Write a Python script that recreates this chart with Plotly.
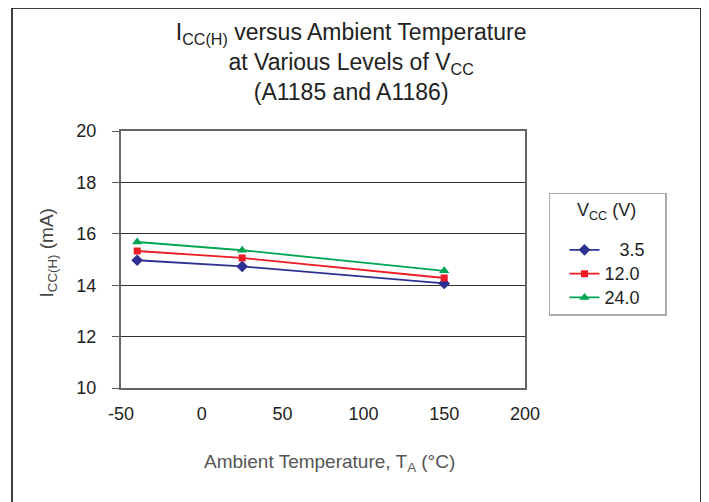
import plotly.graph_objects as go

temps = [-40, 25, 150]
vcc_labels = ["\u00a0\u00a0\u00a03.5", "12.0", "24.0"]
icc_35 = [14.97, 14.73, 14.07]
icc_12 = [15.33, 15.06, 14.28]
icc_24 = [15.68, 15.36, 14.56]

x_ticks = [-50, 0, 50, 100, 150, 200]
y_ticks = [10, 12, 14, 16, 18, 20]

series = [
    (vcc_labels[0], icc_35, "#2E3192", "diamond", 9),
    (vcc_labels[1], icc_12, "#ED1C24", "square", 7),
    (vcc_labels[2], icc_24, "#00A651", "triangle-up", 9),
]

fig = go.Figure()
for name, ys, color, sym, size in series:
    fig.add_trace(go.Scatter(
        x=temps, y=ys, mode="lines+markers",
        name="<span style='font-size:18px'>" + name + "\u00a0\u00a0\u00a0</span>",
        line=dict(color=color, width=1.8),
        marker=dict(symbol=sym, size=size, color=color),
    ))

FONT = "Liberation Sans, Arial, sans-serif"
TXT = "#222"
fig.update_layout(
    width=709, height=502,
    margin=dict(l=113, r=192, t=123, b=122),
    paper_bgcolor="white", plot_bgcolor="white",
    font=dict(family=FONT, size=18, color=TXT),
    showlegend=True,
    title=dict(
        text="I<sub>CC(H)</sub> versus Ambient Temperature<br>at Various Levels of V<sub>CC</sub><br>(A1185 and A1186)",
        x=0.484, xref="container", xanchor="center",
        y=0.936, yref="container", yanchor="top",
        font=dict(family=FONT, size=23, color=TXT),
    ),
    xaxis=dict(
        range=[-50, 200], tickvals=x_ticks, ticktext=[str(v) for v in x_ticks],
        showgrid=False, zeroline=False, showline=True, mirror=True,
        linecolor="#666", linewidth=2, ticks="", ticklabelstandoff=8,
        tickfont=dict(size=18, color=TXT),
    ),
    yaxis=dict(
        range=[10, 20], tickvals=y_ticks, ticktext=[str(v) for v in y_ticks],
        showgrid=True, gridcolor="#333", gridwidth=1.2, zeroline=False,
        showline=True, mirror=True, linecolor="#666", linewidth=2,
        ticks="outside", ticklen=7, tickcolor="#555", ticklabelstandoff=12,
        tickfont=dict(size=18, color=TXT),
    ),
    legend=dict(
        title=dict(text="\u00a0<br>\u00a0", side="top", font=dict(size=14.8)),
        x=1.0594, y=0.7588, xanchor="left", yanchor="top",
        bordercolor="#aaa", borderwidth=1.5, bgcolor="white",
        font=dict(size=16, color=TXT), indentation=14, tracegroupgap=0,
    ),
    annotations=[
        dict(text="Ambient Temperature, T<sub>A</sub> (°C)", xref="paper", yref="paper",
             x=0.517, y=-0.292, xanchor="center", yanchor="middle", showarrow=False,
             font=dict(size=19, color="#555")),
        dict(text="I<sub>CC(H)</sub> (mA)", xref="paper", yref="paper",
             x=-0.181, y=0.527, xanchor="center", yanchor="middle", showarrow=False,
             textangle=-90, font=dict(size=19, color="#444")),
        dict(text="V<sub>CC</sub> (V)", xref="paper", yref="paper",
             x=1.2005, y=0.685, xanchor="center", yanchor="middle", showarrow=False,
             font=dict(size=18, color=TXT)),
    ],
)

fig.add_shape(type="rect", xref="paper", yref="paper",
              x0=-0.2698, x1=1.4356, y0=-0.48, y1=1.4786,
              line=dict(color="black", width=1.5), layer="below")

fig.write_html("out.html")
